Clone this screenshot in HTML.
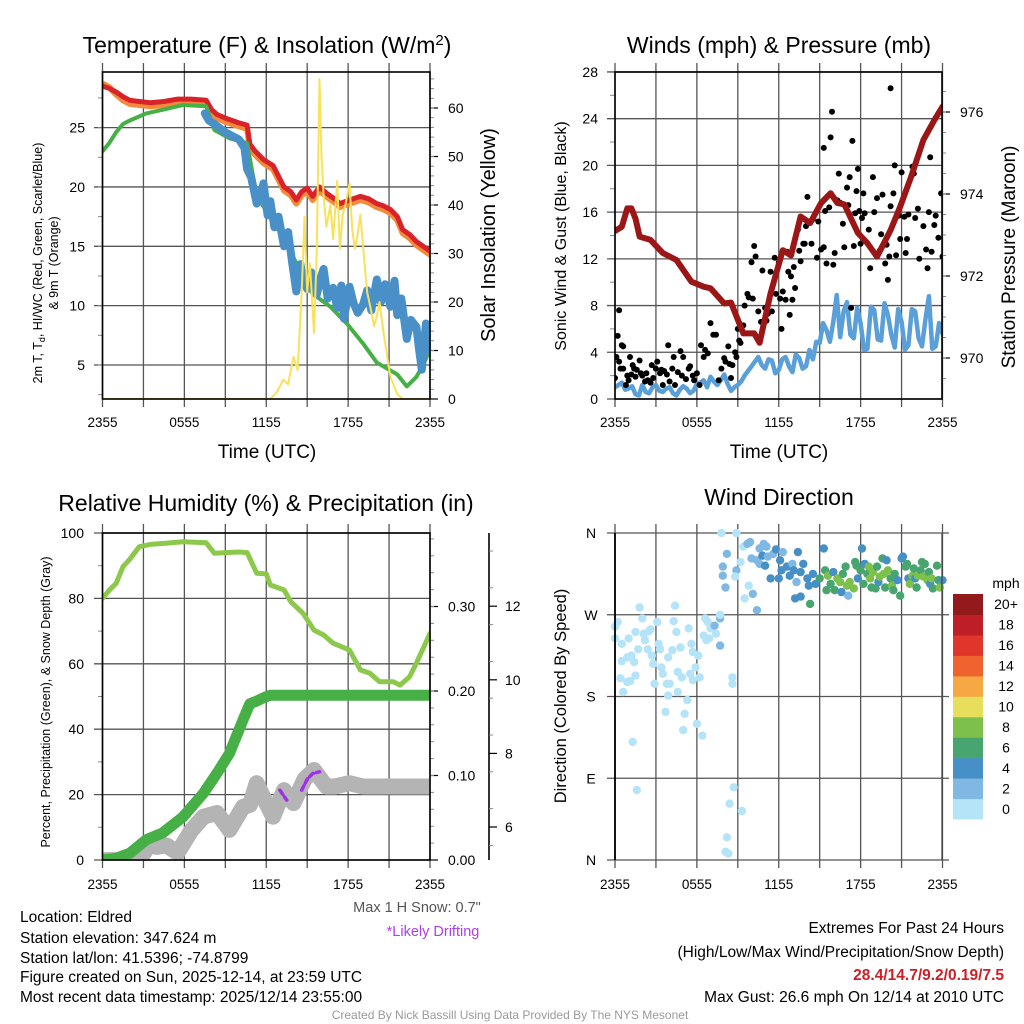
<!DOCTYPE html>
<html><head><meta charset="utf-8"><title>NYS Mesonet Eldred</title>
<style>
html,body{margin:0;padding:0;background:#fff;}
svg{display:block;font-family:"Liberation Sans",Arial,sans-serif;}
</style></head>
<body>
<svg id="chart" xmlns="http://www.w3.org/2000/svg" width="1024" height="1024" viewBox="0 0 1024 1024">
<rect x="0" y="0" width="1024" height="1024" fill="#fff"/>
<defs>
<clipPath id="c1"><rect x="102.5" y="72" width="327.5" height="327"/></clipPath>
<clipPath id="c2"><rect x="615" y="72" width="327" height="327"/></clipPath>
<clipPath id="c3"><rect x="102.5" y="533" width="327.5" height="327"/></clipPath>
<clipPath id="c4"><rect x="615" y="533" width="327" height="327"/></clipPath>
</defs>
<g id="grids"></g>
<g id="marks"></g>
<g id="axes"></g>

<text x="267" y="53" font-size="23" text-anchor="middle">Temperature (F) &amp; Insolation (W/m<tspan dy="-8" font-size="15">2</tspan><tspan dy="8">)</tspan></text>
<text x="779" y="53" font-size="23" text-anchor="middle">Winds (mph) &amp; Pressure (mb)</text>
<text x="266" y="511" font-size="23" text-anchor="middle">Relative Humidity (%) &amp; Precipitation (in)</text>
<text x="779" y="505" font-size="23" text-anchor="middle">Wind Direction</text>

<text x="267" y="458" font-size="19" text-anchor="middle">Time (UTC)</text>
<text x="779" y="458" font-size="19" text-anchor="middle">Time (UTC)</text>

<text transform="translate(42,263) rotate(-90)" font-size="12.5" text-anchor="middle">2m T, T<tspan dy="3" font-size="9">d</tspan><tspan dy="-3">, HI/WC (Red, Green, Scarlet/Blue)</tspan></text>
<text transform="translate(58,263) rotate(-90)" font-size="12.5" text-anchor="middle">&amp; 9m T (Orange)</text>
<text transform="translate(495,235) rotate(-90)" font-size="20" text-anchor="middle">Solar Insolation (Yellow)</text>
<text transform="translate(566,236) rotate(-90)" font-size="16" text-anchor="middle">Sonic Wind &amp; Gust (Blue, Black)</text>
<text transform="translate(1015,257) rotate(-90)" font-size="19" text-anchor="middle">Station Pressure (Maroon)</text>
<text transform="translate(50,702) rotate(-90)" font-size="12.5" text-anchor="middle">Percent, Precipitation (Green), &amp; Snow Depth (Gray)</text>
<text transform="translate(566,696) rotate(-90)" font-size="16.5" text-anchor="middle">Direction (Colored By Speed)</text>

<text x="417" y="912" font-size="14.5" fill="#555" text-anchor="middle">Max 1 H Snow: 0.7"</text>
<text x="433" y="936" font-size="14.5" fill="#a83ff0" text-anchor="middle">*Likely Drifting</text>

<text x="20" y="922" font-size="15.5">Location: Eldred</text>
<text x="20" y="943" font-size="15.5">Station elevation: 347.624 m</text>
<text x="20" y="963" font-size="15.5">Station lat/lon: 41.5396; -74.8799</text>
<text x="20" y="982" font-size="15.5">Figure created on Sun, 2025-12-14, at 23:59 UTC</text>
<text x="20" y="1002" font-size="15.5">Most recent data timestamp: 2025/12/14 23:55:00</text>

<text x="1004" y="933" font-size="15.5" text-anchor="end">Extremes For Past 24 Hours</text>
<text x="1004" y="957" font-size="15.5" text-anchor="end">(High/Low/Max Wind/Precipitation/Snow Depth)</text>
<text x="1004" y="980" font-size="15.5" font-weight="bold" fill="#cc1f26" text-anchor="end">28.4/14.7/9.2/0.19/7.5</text>
<text x="1004" y="1002" font-size="15.5" text-anchor="end">Max Gust: 26.6 mph On 12/14 at 2010 UTC</text>
<text x="510" y="1019" font-size="12" fill="#9a9a9a" text-anchor="middle">Created By Nick Bassill Using Data Provided By The NYS Mesonet</text>
<text x="1006" y="588" font-size="14" text-anchor="middle">mph</text>
</svg>
<script>
// ---------- DATA ----------
const xTickLabels = ["2355","0555","1155","1755","2355"];
const tempTicks = [5,10,15,20,25];
const solarTicks = [0,10,20,30,40,50,60];
const windTicks = [0,4,8,12,16,20,24,28];
const presTicks = [970,972,974,976];
const rhTicks = [0,20,40,60,80,100];
const precipTicks = [0.00,0.10,0.20,0.30];
const snowTicks = [6,8,10,12];
const dirLabels = ["N","W","S","E","N"];
const dirTicks = [360,270,180,90,0];
const speedBins = ["0","2","4","6","8","10","12","14","16","18","20+"];
const speedColors = ["#b5e4f8","#7fb9e3","#478fc7","#48a56f","#7dc14c","#e7df5c","#f6a845","#f0622e","#e0352b","#be1e26","#921a1c"];

const tTemp = [0,0.5,1,1.5,2,2.7,3.5,4.5,5.5,6.5,7.6,8,8.4,9,10,10.6,10.8,11.2,11.8,12.5,13.3,13.8,14.2,14.6,15,15.4,15.9,16.5,17,17.4,18.1,18.9,19.5,20.1,20.6,21.1,21.6,22,22.5,23,23.5,24];
const tempRed = [28.5,28.3,28.0,27.6,27.3,27.2,27.1,27.2,27.4,27.4,27.3,26.5,26.1,25.8,25.4,25.2,23.6,23.0,22.3,21.8,20.0,19.6,18.9,19.6,19.9,19.2,20,19.4,19.0,18.6,18.9,19.2,19.0,18.6,18.4,18.1,17.5,16.4,16.0,15.4,15.0,14.6];
const temp9m = [28.7,28.4,27.8,27.3,27.0,26.9,26.8,26.9,27.1,27.1,27.0,26.2,25.8,25.5,25.1,24.9,23.3,22.7,22.0,21.5,19.7,19.3,18.6,19.3,19.6,18.9,19.7,19.1,18.7,18.3,18.6,18.9,18.7,18.3,18.1,17.8,17.2,16.1,15.7,15.1,14.7,14.3];
const tDew = [0,0.5,1,1.5,2,3.2,4.4,5.9,7.6,8.2,9.3,10.6,11.3,12.8,14.2,15.4,16.7,17.9,19.1,20.1,21,21.6,22.3,23,23.5,24];
const dewpoint = [23,23.7,24.6,25.3,25.6,26.2,26.5,26.9,26.8,24.8,24.1,23.7,19.2,16.6,13.6,11,9.9,8.5,6.8,5.2,4.6,4.2,3.2,4,5,6.3];
const tChill = [7.5,7.8,8.2,9,10,10.4,10.6,10.9,11.3,11.6,11.8,12.1,12.3,12.6,12.9,13.3,13.6,13.9,14.2,14.5,14.7,15,15.3,15.7,16,16.2,16.5,16.9,17.2,17.5,17.7,18.1,18.4,18.7,19.1,19.4,19.7,20.1,20.4,20.7,21.1,21.4,21.6,21.9,22.3,22.6,23,23.2,23.4,23.7,24];
const windChill = [26.2,25.6,25.3,24.6,24,23.3,21.5,20.8,18.6,19.5,20.3,17.6,18.8,16.6,17.5,15,16.2,13.6,11.2,13.5,12.2,11.4,12.8,10.9,12.4,13.1,10.6,11.5,9.8,11.7,8.9,11.6,10.2,9.4,10.1,11.3,9.6,12.2,10.3,11.8,9.9,12.1,9.2,10.6,7.2,8.8,8.2,6.3,4.6,8.5,6.3];
const tSolar = [0,12.3,12.8,13.25,13.6,14,14.3,14.6,14.8,15,15.2,15.5,15.7,15.9,16.05,16.2,16.4,16.7,16.9,17.2,17.4,17.6,17.8,18.1,18.3,18.5,18.7,18.9,19.2,19.4,19.7,19.9,20.1,20.3,20.6,20.8,21.1,21.6,22,24];
const solar = [0,0,1.5,4,3,8.7,6,22,37.6,22,28,13.6,30,66,50,42,35.5,40,33,45,31,38,40,44.5,35,31,34,38,28,22,18,15,17,20,13.6,10,4.6,1,0,0];

const tWind = [0,0.25,0.5,0.75,1,1.25,1.5,1.75,2,2.25,2.5,2.75,3,3.25,3.5,3.75,4,4.25,4.5,4.75,5,5.25,5.5,5.75,6,6.25,6.5,6.75,7,7.25,7.5,7.75,8,8.25,8.5,8.75,9,9.25,9.5,9.75,10,10.25,10.5,10.75,11,11.25,11.5,11.75,12,12.25,12.5,12.75,13,13.25,13.5,13.75,14,14.25,14.5,14.75,15,15.25,15.5,15.75,16,16.25,16.5,16.75,17,17.25,17.5,17.75,18,18.25,18.5,18.75,19,19.25,19.5,19.75,20,20.25,20.5,20.75,21,21.25,21.5,21.75,22,22.25,22.5,22.75,23,23.25,23.5,23.75,24];
const windSpeed = [1,1.2,1.4,0.8,0.9,1.1,0.4,0.3,
1.2,0.6,0.5,1.0,1.2,0.7,0.6,0.9,
1,0.5,0.3,0.8,1.1,0.9,0.5,0.7,
1.3,1.4,1.6,1.0,1.9,1.5,1.2,1.6,
2.1,1.3,0.7,1.0,1.2,1.5,2,2.4,
2.8,3.2,3.6,2.9,2.6,3.4,3.3,2.2,
2.5,3.4,3.6,2.8,2.3,3.8,3.5,2.6,
2.8,4.2,3.4,4.9,4.8,6.5,5.9,4.9,
6.6,8.9,5.3,7.5,8.3,5.5,5.2,7.8,
6.5,4.2,4.3,7.9,7.6,5.1,5,8.2,
7.2,5.5,4.4,7.7,6.6,4.2,4.6,7.7,
7.5,5.2,4.5,6.8,8.8,4.3,4.5,6.5,
5.6];
const gustT = [0,0.1,0.2,0.3,0.3,0.4,0.5,0.6,0.6,0.8,
0.9,1,1.1,1.2,1.3,1.4,1.5,1.6,1.8,1.9,
2,2.2,2.3,2.4,2.6,2.7,2.8,3,3.1,3.3,
3.4,3.5,3.6,3.8,3.9,4,4.2,4.3,4.4,4.6,
4.8,4.9,5,5.2,5.4,5.5,5.7,5.8,6,6.2,
6.3,6.5,6.6,6.8,7,7.2,7.4,7.6,7.8,8,
8.1,8.3,8.4,8.5,8.6,8.8,8.9,9,9.1,9.2,
9.4,9.5,9.7,9.8,10,10.1,10.2,10.3,10.5,10.6,
10.7,10.8,11,11.1,11.2,11.4,11.5,11.7,11.8,12,
12.1,12.2,12.3,12.5,12.6,12.7,12.8,12.9,13,13.1,
13.2,13.4,13.5,13.6,13.8,13.9,14,14.1,15.3,14.4,
14.5,15.9,15.8,14.8,14.9,15.1,15.3,15.4,15.5,15.7,
17.4,16,16.1,16.3,16.4,16.5,16.7,16.8,17,17.1,
17.2,17.3,17.5,17.6,17.7,17.8,17.9,18,18.1,18.2,
18.3,20.2,18.6,18.7,18.9,19,19.2,19.4,19.5,19.6,
19.8,19.9,20,20.1,20.2,20.4,20.5,20.6,20.8,20.9,
21,21.2,21.3,21.4,21.5,21.8,21.9,22,22.2,22.3,
23.1,22.6,22.8,22.9,23,23.2,23.4,23.5,23.7,23.9,
24];
const gustV = [1.8,3.6,5.4,7.6,3.2,2.6,4.6,2.6,4.5,1.2,
2,1.6,3.6,2.1,2.9,2.6,1.9,2.5,3.3,2.2,
2,1.5,2.2,1.6,1.4,2.9,1.8,2.6,3.2,2.2,
2.5,1.2,2.4,2.1,4.6,1.5,2.6,3.6,1.2,2.3,
4.1,2,3.6,1.7,2.6,2.8,2,1.6,2.2,1.2,
4.6,3.6,4.2,3.9,6.5,5.5,5.5,1.6,2.6,3.5,
3.2,4.5,3,1.8,2.9,4,3.6,6,5,4.8,
6.3,8,9,8.7,11.7,8.6,13.1,12.2,7.5,5.2,
6.6,11,7.8,6.7,7.3,10.9,7.5,12.1,9,11.7,
8.6,6,9.2,8.5,12.6,10.9,7.2,10.5,8.5,11.3,
9.5,14.5,12.7,11.8,13.3,13.3,14.8,17.3,21.5,13.3,
15.4,24.6,22.4,12.1,15.2,12.8,13,16.1,11.6,16.4,
22.1,11.5,12.5,17,19.3,16.8,15,13,18.1,16.6,
19,7.8,13.1,15.9,17.8,19.7,16.1,13.3,15.5,17.6,
15.9,26.6,14.5,11.2,19,16,17.2,12.7,14.1,17.5,
11.6,13.2,10.2,12.2,16.5,17.6,20,12.3,15.7,13.7,
19.4,15.6,12.5,13.7,15.8,19.9,19.3,15.5,16.3,12,
20.7,14.8,12.8,11.2,16,12.6,14.9,15.7,13.8,17.6,
12.2];
const tPres = [0,0.5,0.9,1.2,1.5,1.8,2.6,3.5,4.5,5.6,6.5,7,8,8.5,9.4,10.2,10.6,11.4,12.3,12.9,13.6,14.3,15.1,15.8,16.3,16.8,17.8,18.5,19.2,20.2,20.9,21.7,22.6,23.4,24];
const pressure = [973.1,973.2,973.65,973.65,973.4,972.96,972.88,972.56,972.39,971.86,971.74,971.7,971.33,971.35,970.6,970.6,970.37,971.58,972.63,972.5,973.45,973.29,973.78,974.02,973.78,973.75,973.05,972.8,972.47,973.12,973.69,974.42,975.32,975.8,976.13];

const tRH = [0,0.5,1,1.5,2,2.7,3.5,4.4,5.9,7.6,8.2,9,10,10.6,11.3,12,12.3,13.3,13.8,14.7,15.5,16.2,16.9,18.1,18.9,19.6,20.3,21.3,21.8,22.5,23,24];
const humidity = [80,82.5,84.6,89.7,92,95.8,96.5,96.8,97.3,97,93.8,94,94.2,94,87.7,87.5,84.1,82.6,79,75.4,70.3,68.8,66.3,64.2,58.1,57.1,54.5,54.5,53.5,56,60.2,69.3];
const tPrecip = [0,1,2,3.2,4.4,5.9,7.4,8.4,9.3,10.3,10.8,11.3,11.8,12.3,24];
const precip = [0,0.002,0.008,0.024,0.032,0.051,0.079,0.103,0.126,0.166,0.185,0.188,0.192,0.195,0.195];
const tSnow = [0,1,2.7,3.4,4,4.7,5.5,6.5,7.4,8.4,9.3,10.3,10.8,11.3,11.8,12.5,13.3,14,14.8,15.5,16.4,17,18.1,19.1,24];
const snowDepth = [5.1,5.1,5.1,5.5,5.46,5.5,5.3,5.9,6.28,6.38,5.92,6.55,6.6,7.19,6.8,6.28,7,6.65,7.3,7.55,7.1,7.1,7.19,7.1,7.1];
const drift1T = [13.0,13.5];
const drift1V = [7.0,6.73];
const drift2T = [14.6,15.0,15.4,15.9];
const drift2V = [7.0,7.3,7.45,7.5];

const dirT = [0,0,0.2,0.5,0.4,0.6,0.5,0.9,1.0,0.9,1.1,1.2,1.4,1.5,1.5,1.7,1.8,2.0,2.1,2.2,2.4,2.5,2.6,2.7,2.8,2.9,3.1,3.2,3.3,3.4,3.5,3.7,3.8,3.9,3.9,4.0,4.2,4.3,4.4,4.5,4.6,4.6,4.8,4.9,5.0,5.1,5.3,5.4,5.5,5.6,5.7,5.7,5.9,6.0,6.1,6.2,6.4,6.5,6.6,6.7,6.8,6.9,7.0,7.3,7.4,7.7,7.7,7.7,8.6,8.6,8.2,8.3,8.1,8.4,8.7,9.3,1.3,1.6,7.8,8.9,
8.2,7.9,8.1,7.9,8.9,9.2,8.8,9.4,9.7,9.9,9.8,9.5,10.1,10.4,10,10.4,10.6,10.8,10.9,11.1,10.6,11,11.4,11.2,11.6,11.8,12.1,12.3,12,12.2,12.6,12.8,13,13.1,13.3,13.2,13.4,13.6,13.8,13.6,14.1,14.2,14.3,14.5,14.7,15.3,
15,15.4,15.5,15.6,15.8,16,16.1,16.3,16.5,16.6,16.7,16.9,17,17.1,17.2,17.5,17.6,17.7,17.8,18,18.1,18.2,18.3,18.5,18.6,18.7,18.8,18.9,19.1,19.2,19.3,19.4,19.6,19.7,19.8,19.9,20,20.2,20.3,20.4,20.5,20.7,20.9,21,21.1,21.3,21.4,21.5,21.6,21.8,21.9,22,22.1,22.2,22.4,22.5,22.6,22.7,22.9,23,23.1,23.2,23.3,23.6,23.7,23.8,24];
const dirDeg = [257,244,262,238,200,185,219,223,244,196,197,225,218,251,203,232,278,266,249,242,232,252,254,225,216,194,262,238,232,212,205,163,194,223,181,194,231,263,280,251,207,185,234,201,143,161,176,255,205,238,198,229,212,150,225,201,137,247,266,242,262,244,255,258,249,236,266,270,201,194,25,7,9,62,80,54,130,77,360,360,
337,323,300,313,319,328,312,345,348,350,302,288,293,275,332,330,343,335,348,345,326,324,310,334,337,342,330,339,310,319,323,313,326,319,306,288,339,317,326,290,310,302,282,315,304,343,
310,319,297,313,304,317,297,310,306,295,315,323,302,291,306,299,328,324,310,319,343,304,326,315,323,310,300,317,299,323,306,312,332,315,300,330,319,310,302,297,315,308,291,332,334,323,326,310,304,313,321,310,300,313,319,328,312,326,308,317,304,310,299,324,308,300,308];
const dirSpeed = [0.5,0.8,0.6,0.5,0.7,0.4,0.6,0.8,0.5,0.6,0.7,0.5,0.8,0.6,0.4,0.7,0.9,1,0.6,0.5,0.7,0.8,0.6,0.5,0.7,0.6,0.8,0.5,0.7,0.6,0.9,0.5,0.7,0.6,0.8,0.5,0.7,0.6,0.9,0.8,0.5,0.6,0.7,0.8,0.5,0.6,0.7,0.9,0.5,0.8,0.6,0.7,0.9,0.5,1,0.8,0.6,0.7,1.2,0.9,1.1,1.3,1.5,3,1.2,3,2.5,1,0.6,0.5,0.5,0.4,0.6,0.7,0.5,0.6,0.5,0.6,0.5,0.6,
3,2.5,2.5,2,2.5,1,1,1,2,2,1,1,2.5,3,2,2,3.5,4,3,3,2,4,4,3,2,4,4,2.5,4,4,4,4,3,4,2,4,4.5,4,4,4,4,4,6,4,4,4,
6,6,6,8,6,4,6,8,8,4,6,6,8,2.5,8,8,6,6,4,6,4,6,4,6,8,8,6,8,6,6,4,8,6,8,6,4,8,6,8,6,6,4,6,4,4,6,6,4,8,8,6,4,6,8,6,6,8,6,8,6,4,8,6,6,6,8,4];

// ---------- AXIS FUNCTIONS ----------
const PW = 327.5/24;
const x1 = h => 102.5 + h*PW;
const x2 = h => 615 + h*PW;
const yTemp = v => 365 - (v-5)*11.87;
const ySolar = v => 399 - v*4.85;
const yWind = v => 399 - v*11.68;
const yPres = p => 358 - (p-970)*41;
const yRH = v => 860 - v*3.27;
const yPrecip = p => 860 - p*845;
const ySnow = s => 827 - (s-6)*36.8;
const yDir = d => 860 - d*0.9083;

const NS = 'http://www.w3.org/2000/svg';
const svg = document.getElementById('chart');
const grids = document.getElementById('grids');
const marks = document.getElementById('marks');
const axes = document.getElementById('axes');
function mk(tag, attrs, parent){ const e=document.createElementNS(NS,tag); for(const k in attrs) e.setAttribute(k,attrs[k]); parent.appendChild(e); return e; }
function line(x1_,y1_,x2_,y2_,stroke,w,parent){ return mk('line',{x1:x1_,y1:y1_,x2:x2_,y2:y2_,stroke:stroke,'stroke-width':w},parent); }
function label(s,x,y,anchor,size,parent){ const e=mk('text',{x:x,y:y,'text-anchor':anchor,'font-size':size},parent); e.textContent=s; return e; }
function pts(ts,vs,fx,fy){ return ts.map((t,i)=>fx(t).toFixed(1)+','+fy(vs[i]).toFixed(1)).join(' '); }
function series(ts,vs,fx,fy,color,w,clip,name,extra){
  const p = mk('polyline',{points:pts(ts,vs,fx,fy),fill:'none',stroke:color,'stroke-width':w,'stroke-linejoin':'round','stroke-linecap':'round','clip-path':'url(#'+clip+')'},marks);
  if(extra) for(const k in extra) p.setAttribute(k,extra[k]);
  
  
  return p;
}
const GC = '#555';

// ---------- PANEL FRAMES & GRIDS ----------
function timeAxis(xf, top, bottom, labelY, panel){
  for(let i=0;i<=8;i++){
    const x = xf(i*3);
    const g = line(x, top-9, x, bottom+8, GC, 1.3, grids);
    
    
  }
  xTickLabels.forEach((s,i)=>{
    const t = label(s, xf(i*6), labelY, 'middle', 13.5, axes);
    
    
  });
}
function frame(x0,y0,x1_,y1_,panel){
  const r = mk('rect',{x:x0,y:y0,width:x1_-x0,height:y1_-y0,fill:'none',stroke:'#000','stroke-width':1.6},axes);
  
  
}

// Panel 1
timeAxis(x1, 72, 399, 427, 'temperature');
tempTicks.forEach(v=>{
  const g = line(94, yTemp(v), 430, yTemp(v), GC, 1.3, grids);
  
  
  const t = label(String(v), 85, yTemp(v)+5, 'end', 14, axes);
  
  
});
for(let v=2.5; v<=29; v+=2.5){ const m=line(98,yTemp(v),102.5,yTemp(v),'#888',1,axes);   }
solarTicks.forEach(v=>{
  const m = line(430, ySolar(v), 438, ySolar(v), '#000', 1.2, axes);
  
  
  const t = label(String(v), 448, ySolar(v)+5, 'start', 14, axes);
  
  
});
for(let v=2; v<=66; v+=2){ const m=line(430,ySolar(v),434,ySolar(v),'#888',1,axes);   }
frame(102.5,72,430,399,'temperature');

// Panel 2
timeAxis(x2, 72, 399, 427, 'winds');
windTicks.forEach(v=>{
  const g = line(607, yWind(v), 942, yWind(v), GC, 1.3, grids);
  
  
  const t = label(String(v), 598, yWind(v)+5, 'end', 14, axes);
  
  
});
for(let v=2; v<=28; v+=4){ const m=line(610,yWind(v),615,yWind(v),'#888',1,axes);   }
presTicks.forEach(v=>{
  const m = line(942, yPres(v), 950, yPres(v), '#000', 1.2, axes);
  
  
  const t = label(String(v), 960, yPres(v)+5, 'start', 14, axes);
  
  
});
for(let v=969.5; v<=977; v+=0.5){ const y=yPres(v); if(y<72||y>399) continue; const m=line(942,y,946,y,'#888',1,axes);   }
frame(615,72,942,399,'winds');

// Panel 3
timeAxis(x1, 533, 860, 889, 'humidity');
rhTicks.forEach(v=>{
  const g = line(94, yRH(v), 430, yRH(v), GC, 1.3, grids);
  
  
  const t = label(String(v), 84, yRH(v)+5, 'end', 14, axes);
  
  
});
for(let v=10; v<100; v+=20){ const m=line(98,yRH(v),102.5,yRH(v),'#888',1,axes);   }
precipTicks.forEach(v=>{
  const m = line(430, yPrecip(v), 438, yPrecip(v), '#000', 1.2, axes);
  
  
  const t = label(v.toFixed(2), 448, yPrecip(v)+5, 'start', 14, axes);
  
  
});
for(let v=0.02; v<0.385; v+=0.02){ const m=line(430,yPrecip(v),434,yPrecip(v),'#888',1,axes);   }
const snowAxis = line(489, 533, 489, 860, '#000', 1.6, axes);


snowTicks.forEach(v=>{
  const m = line(489, ySnow(v), 497, ySnow(v), '#000', 1.2, axes);
  
  
  const t = label(String(v), 505, ySnow(v)+5, 'start', 14, axes);
  
  
});
for(let v=5.5; v<=14.5; v+=1){ const y=ySnow(v); if(y<533||y>860) continue; const m=line(489,y,493,y,'#888',1,axes);   }
frame(102.5,533,430,860,'humidity');

// Panel 4
timeAxis(x2, 533, 860, 889, 'direction');
dirTicks.forEach((d,i)=>{
  const g = line(607, yDir(d), 949, yDir(d), GC, 1.3, grids);
  
  
  const t = label(dirLabels[i], 591, yDir(d)+5, 'middle', 14, axes);
  
  
});
const dirLeft = line(615, 533, 615, 860, '#000', 1.8, axes);


const dirRight = line(942, 533, 942, 860, '#444', 1.3, axes);



// Colorbar
speedBins.forEach((s,i)=>{
  const h = (819-594)/11;
  const y = 819 - (i+1)*h;
  const r = mk('rect',{x:953,y:y.toFixed(1),width:30,height:(h+0.5).toFixed(1),fill:speedColors[i]},axes);
  
  
  const t = label(s, 1006, y+h/2+5, 'middle', 14, axes);
  
  
});

// ---------- MARKS ----------
// Panel 1
series(tTemp, temp9m, x1, yTemp, '#f58a3a', 6, 'c1', 'temp-9m-line');
series(tTemp, tempRed, x1, yTemp, '#d8232a', 5, 'c1', 'temp-2m-line');
series(tDew, dewpoint, x1, yTemp, '#46b046', 4, 'c1', 'dewpoint-line');
series(tChill, windChill, x1, yTemp, '#4a90c8', 8, 'c1', 'wind-chill-line');
series(tSolar, solar, x1, ySolar, '#f8e25a', 2, 'c1', 'solar-insolation-line');

// Panel 2
series(tWind, windSpeed, x2, yWind, '#5a9fd8', 4.5, 'c2', 'sonic-wind-line');
gustT.forEach((t,i)=>{
  const c = mk('circle',{cx:x2(t).toFixed(1),cy:yWind(gustV[i]).toFixed(1),r:3,fill:'#000','clip-path':'url(#c2)'},marks);
  
  
});
series(tPres, pressure, x2, yPres, '#9b1717', 6, 'c2', 'pressure-line');

// Panel 3
series(tSnow, snowDepth, x1, ySnow, '#b4b4b4', 16, 'c3', 'snow-depth-line');
series(tPrecip, precip, x1, yPrecip, '#46b046', 11, 'c3', 'precipitation-line');
series(tRH, humidity, x1, yRH, '#8cc84b', 5, 'c3', 'humidity-line');
series(drift1T, drift1V, x1, ySnow, '#a030e8', 3.5, 'c3', 'drifting-segment', {'stroke-dasharray':'5 3'});
series(drift2T, drift2V, x1, ySnow, '#a030e8', 3.5, 'c3', 'drifting-segment', {'stroke-dasharray':'5 3'});

// Panel 4
function speedColor(s){ let i=Math.floor(s/2); if(i>10) i=10; if(i<0) i=0; return speedColors[i]; }
dirT.forEach((t,i)=>{
  const c = mk('circle',{cx:x2(t).toFixed(1),cy:yDir(dirDeg[i]).toFixed(1),r:4.2,fill:speedColor(dirSpeed[i])},marks);
  
  
});
</script>
</body></html>
